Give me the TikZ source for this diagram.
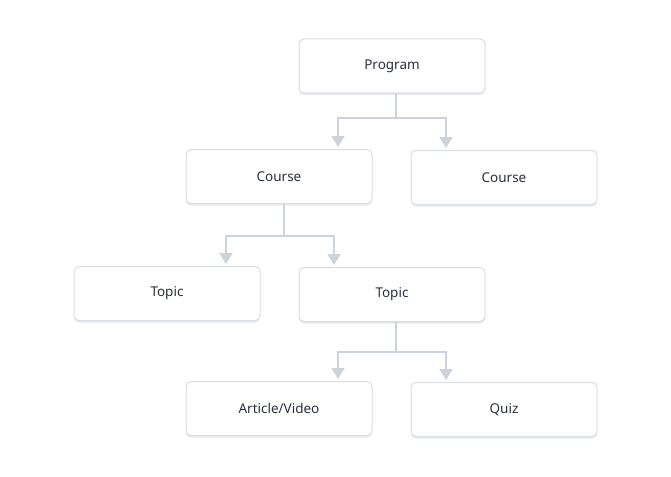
\documentclass[tikz,border=0pt]{standalone}
\usepackage{fontspec}
\setmainfont{Noto Sans}
\usetikzlibrary{arrows.meta,shadows}
\definecolor{boxline}{HTML}{D9DEE4}
\definecolor{wire}{HTML}{CDD3DA}
\definecolor{ink}{HTML}{2B313B}
\begin{document}
\begin{tikzpicture}[x=1pt,y=-1pt,shorten >=2pt,-{Triangle[width=13pt,length=11pt]},wire,line width=2pt]
      \useasboundingbox (0,0) rectangle (671,476);
      \tikzstyle{box}=[draw=boxline, line width=1pt, fill=white, rounded corners=5pt,
        minimum width=186pt, minimum height=54pt, inner sep=0pt, text=ink,
        font=\fontsize{13.5}{15}\selectfont,
        drop shadow={shadow xshift=0pt, shadow yshift=-2pt, opacity=.3, fill=boxline!80!black}]
      \foreach \name/\txt/\x/\y in {prog/Program/392/66, courseA/Course/279/176.5, courseB/Course/504/177.5, topicA/Topic/167/293.5, topicB/Topic/392/294.5, article/Article\slash Video/279/408.5, quiz/Quiz/504/409.5}
        \node[box] (G-\name) at (\x,\y) {\txt};

      \foreach \from/\jx/\jy/\a/\ax/\b/\bx in {prog/396/118/courseA/338/courseB/446, courseA/284/236/topicA/226/topicB/334, topicB/396/352/article/338/quiz/446}{
        \coordinate (J-\from) at (\jx,\jy);
        \coordinate (L-\from) at (\ax,\jy);
        \coordinate (R-\from) at (\bx,\jy);
        \draw[-,shorten >=0pt] (J-\from |- G-\from.south) -- (J-\from);
        \draw[-,shorten >=0pt,line cap=rect] (L-\from) -- (R-\from);
        \draw (L-\from) -- (L-\from |- G-\a.north);
        \draw (R-\from) -- (R-\from |- G-\b.north);
      }
    \end{tikzpicture}
\end{document}
